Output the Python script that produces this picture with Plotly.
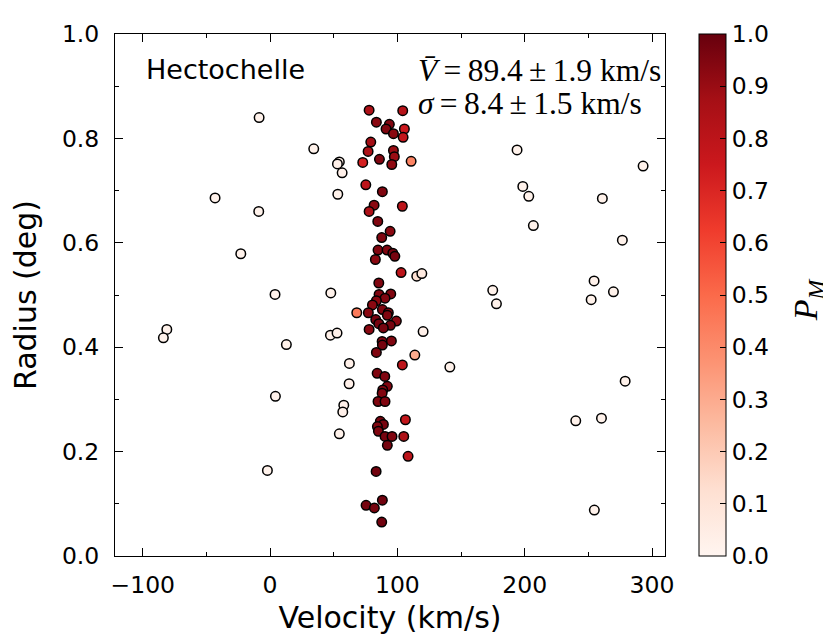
import plotly.graph_objects as go

# members / central clump (velocity km/s, radius deg, membership probability)
velocity = [
    77.8, 104.2, 83.5, 93.7, 91.1, 96.9, 105.5, 104.5, 79.1, 77.0,
    96.9, 97.6, 85.9, 95.6, 72.8, 110.8, 75.2, 88.2, 81.7, 77.8,
    103.9, 84.6, 94.3, 87.7, 84.8, 91.9, 96.4, 98.0, 82.7, 102.9,
    115.2, 119.2, 85.4, 85.6, 94.8, 90.3, 83.5, 80.4, 88.2, 68.1,
    77.2, 92.9, 92.1, 83.0, 99.2, 85.4, 94.5, 89.0, 77.8, 88.0,
    95.3, 88.2, 83.5, 113.7, 103.9, 84.1, 90.1, 92.1, 88.5, 88.0,
    84.8, 90.3, 86.6, 89.0, 84.3, 85.1, 106.3, 90.3, 95.8, 105.0,
    92.1, 108.4, 83.3, 88.2, 75.4, 81.9, 87.7,
    # non-members
    -8.6, -43.2, -8.9, -23.0, 3.9, -81.1, -83.8, 12.8, 4.2, -2.1,
    34.3, 54.4, 52.9, 56.6, 53.2, 47.7, 47.4, 52.6, 62.3, 62.1,
    57.9, 57.1, 54.4, 120.2, 141.2, 194.0, 293.0, 198.5, 203.2, 261.0,
    206.8, 276.7, 254.5, 174.9, 269.7, 177.8, 252.2, 278.9, 240.1, 260.3,
    254.7,
]
radius = [
    0.854, 0.853, 0.831, 0.827, 0.818, 0.809, 0.818, 0.802, 0.793, 0.775,
    0.777, 0.765, 0.760, 0.750, 0.754, 0.756, 0.711, 0.698, 0.672, 0.660,
    0.670, 0.641, 0.622, 0.610, 0.586, 0.586, 0.580, 0.574, 0.568, 0.543,
    0.536, 0.541, 0.523, 0.501, 0.502, 0.494, 0.489, 0.481, 0.472, 0.466,
    0.466, 0.466, 0.461, 0.453, 0.450, 0.445, 0.442, 0.437, 0.434, 0.411,
    0.412, 0.404, 0.390, 0.385, 0.366, 0.350, 0.344, 0.325, 0.318, 0.312,
    0.296, 0.296, 0.258, 0.252, 0.248, 0.239, 0.261, 0.229, 0.229, 0.229,
    0.212, 0.191, 0.162, 0.107, 0.097, 0.092, 0.065,
    0.840, 0.686, 0.660, 0.579, 0.501, 0.434, 0.418, 0.405, 0.306, 0.164,
    0.780, 0.755, 0.751, 0.734, 0.693, 0.504, 0.423, 0.427, 0.369, 0.330,
    0.289, 0.276, 0.234, 0.430, 0.362, 0.778, 0.747, 0.708, 0.689, 0.685,
    0.633, 0.605, 0.527, 0.509, 0.506, 0.483, 0.491, 0.335, 0.259, 0.264,
    0.088,
]
p_member = [
    0.85, 0.82, 0.93, 0.95, 0.95, 0.93, 0.75, 0.78, 0.88, 0.85,
    0.90, 0.90, 0.95, 0.92, 0.72, 0.42, 0.80, 0.95, 0.93, 0.85,
    0.80, 0.95, 0.93, 0.95, 0.95, 0.95, 0.97, 0.97, 0.93, 0.80,
    0.12, 0.07, 0.95, 0.95, 0.95, 0.95, 0.93, 0.93, 0.95, 0.45,
    0.93, 0.95, 0.95, 0.97, 0.93, 0.97, 0.97, 0.97, 0.93, 0.95,
    0.95, 0.97, 0.95, 0.30, 0.80, 0.95, 0.95, 0.95, 0.95, 0.95,
    0.95, 0.95, 0.97, 0.97, 0.95, 0.95, 0.78, 0.97, 0.95, 0.85,
    0.97, 0.80, 0.98, 0.98, 0.97, 0.97, 0.98,
    0.02, 0.02, 0.02, 0.02, 0.02, 0.02, 0.02, 0.02, 0.02, 0.02,
    0.02, 0.03, 0.03, 0.03, 0.02, 0.02, 0.03, 0.03, 0.03, 0.03,
    0.03, 0.03, 0.02, 0.03, 0.02, 0.02, 0.02, 0.02, 0.02, 0.02,
    0.02, 0.02, 0.02, 0.02, 0.02, 0.02, 0.02, 0.02, 0.02, 0.02,
    0.02,
]

# matplotlib "Reds"
reds = ['#fff5f0', '#fee0d2', '#fcbba1', '#fc9272', '#fb6a4a',
        '#ef3b2c', '#cb181d', '#a50f15', '#67000d']
colorscale = [[i / (len(reds) - 1), c] for i, c in enumerate(reds)]

cbar_ticks = [i / 10 for i in range(11)]

font_main = "DejaVu Sans"
font_math = "Liberation Serif"
tick_size = 23.5

fig = go.Figure(go.Scatter(
    x=velocity, y=radius, mode='markers',
    marker=dict(
        size=9.5, color=p_member, cmin=0, cmax=1, colorscale=colorscale,
        line=dict(color='black', width=1.5),
        colorbar=dict(
            x=1.062, xanchor='left', xpad=0, y=0.5, len=1, ypad=0,
            thickness=27, outlinewidth=1, outlinecolor='black',
            tickvals=cbar_ticks, ticktext=[f"{t:.1f}" for t in cbar_ticks],
            ticks='inside', ticklen=6, tickcolor='black',
            tickfont=dict(family=font_main, size=tick_size, color='black'),
        ),
    ),
    showlegend=False,
))

axis_common = dict(
    showgrid=False, zeroline=False, showline=True, linecolor='black',
    linewidth=1, mirror='allticks', ticks='inside', ticklen=8,
    tickcolor='black', tickfont=dict(family=font_main, size=tick_size, color='black'),
)

fig.update_xaxes(
    range=[-121.8, 310.2], dtick=100, tick0=0,
    minor=dict(dtick=50, ticks='inside', ticklen=4, tickcolor='black'),
    ticklabelstandoff=8,
    title=dict(text="Velocity (km/s)", standoff=8,
               font=dict(family=font_main, size=30, color='black')),
    **axis_common,
)
fig.update_yaxes(
    range=[0, 1], dtick=0.2, tick0=0, tickformat='.1f',
    minor=dict(dtick=0.1, ticks='inside', ticklen=4, tickcolor='black'),
    ticklabelstandoff=10,
    title=dict(text="Radius (deg)", standoff=16,
               font=dict(family=font_main, size=30, color='black')),
    **axis_common,
)

fig.add_annotation(
    x=0.0527, y=0.932, xref='paper', yref='paper', xanchor='left',
    yanchor='middle', showarrow=False, text="Hectochelle",
    font=dict(family=font_main, size=27, color='black'),
)
fig.add_annotation(
    x=0.547, y=0.93, xref='paper', yref='paper', xanchor='left',
    yanchor='middle', showarrow=False,
    text="<i>V\u0304</i>\u2009=\u200989.4\u2009±\u20091.9 km/s",
    font=dict(family=font_math, size=31.5, color='black'),
)
fig.add_annotation(
    x=0.547, y=0.866, xref='paper', yref='paper', xanchor='left',
    yanchor='middle', showarrow=False,
    text="<i>σ</i>\u2009=\u20098.4\u2009±\u20091.5 km/s",
    font=dict(family=font_math, size=31.5, color='black'),
)
fig.add_annotation(
    x=1.26, y=0.49, xref='paper', yref='paper', xanchor='center',
    yanchor='middle', showarrow=False, textangle=-90,
    text="<i>P<sub>M</sub></i>",
    font=dict(family=font_math, size=34, color='black'),
)

# page body adds an 8px offset, so the figure is 8px smaller than the window
fig.update_layout(
    width=823, height=635,
    margin=dict(l=107, r=166, t=16, b=87),
    plot_bgcolor='white', paper_bgcolor='white',
)

fig.write_html("out.html")
